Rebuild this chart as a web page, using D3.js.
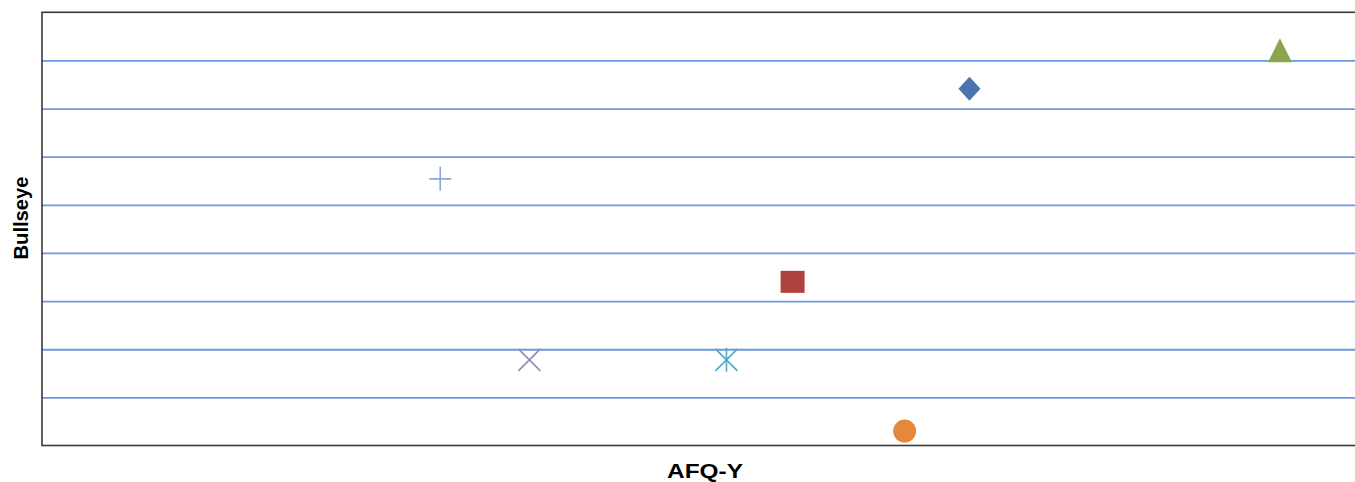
<!DOCTYPE html>
<html>
<head>
<meta charset="utf-8">
<title>AFQ-Y vs Bullseye</title>
<script src="https://d3js.org/d3.v7.min.js"></script>
<style>
body { margin: 0; background: #fff; font-family: "Liberation Sans", Arial, sans-serif; }
.grid line { stroke: #6b98dc; stroke-width: 1.8; }
.grid path { display: none; }
.title { font-weight: bold; font-size: 20px; fill: #000; }
</style>
</head>
<body>
<script>
// data
var series = ["S1", "S2", "S3", "S4", "S5", "S6", "S7"];
var shapes = ["diamond", "square", "triangle", "x", "star", "circle", "plus"];
var colors = ["#4a74ad", "#b0423e", "#8ba64f", "#9b86bc", "#4bacc6", "#e6873a", "#8ca8d8"];
var xValues = [68.7, 55.6, 91.7, 36.1, 50.7, 63.9, 29.5];
var yValues = [74.1, 34.0, 82.1, 17.8, 17.8, 3.0, 55.4];
var gridTicks = [10, 20, 30, 40, 50, 60, 70, 80];

var width = 1355, height = 482;
var plotLeft = 42, plotTop = 12.3, plotRight = 1392, plotBottom = 445.5;

var svg = d3.select("body").append("svg")
    .attr("width", width)
    .attr("height", height);

var x = d3.scaleLinear().domain([0, 100]).range([plotLeft, plotRight]);
var y = d3.scaleLinear().domain([0, 90]).range([plotBottom, plotTop]);

// horizontal gridlines
svg.append("g")
    .attr("class", "grid")
    .attr("transform", "translate(" + plotLeft + ",0)")
    .call(d3.axisLeft(y).tickValues(gridTicks).tickSize(-(plotRight - plotLeft)).tickFormat(""));

// plot border (right side falls outside the window)
svg.append("rect")
    .attr("x", plotLeft).attr("y", plotTop)
    .attr("width", plotRight - plotLeft).attr("height", plotBottom - plotTop)
    .attr("fill", "none")
    .attr("stroke", "#3a3a3a")
    .attr("stroke-width", 1.6);

// marker drawing
var r = 12;
function markerPath(shape) {
    switch (shape) {
        case "diamond": return "M0," + (-r) + "L" + (r - 1) + ",0L0," + r + "L" + (-(r - 1)) + ",0Z";
        case "square": return "M-12,-11H12V11H-12Z";
        case "triangle": return "M0,-12L12,12H-12Z";
        case "x": return "M-11,-11L11,11M-11,11L11,-11";
        case "star": return "M-11,-11L11,11M-11,11L11,-11M0,-12V12";
        case "plus": return "M-11,0H11M0,-12V12";
    }
}

var pts = series.map(function(s, i) {
    return { name: s, shape: shapes[i], color: colors[i], x: xValues[i], y: yValues[i] };
});

var g = svg.append("g");
g.selectAll("g.pt")
    .data(pts)
    .enter()
    .append("g")
    .attr("class", "pt")
    .attr("transform", function(d) { return "translate(" + x(d.x) + "," + y(d.y) + ")"; })
    .each(function(d) {
        var el = d3.select(this);
        if (d.shape === "circle") {
            el.append("circle").attr("r", 11.5).attr("fill", d.color);
        } else if (d.shape === "x" || d.shape === "star" || d.shape === "plus") {
            el.append("path").attr("d", markerPath(d.shape))
                .attr("fill", "none").attr("stroke", d.color).attr("stroke-width", 1.6);
        } else {
            el.append("path").attr("d", markerPath(d.shape)).attr("fill", d.color);
        }
    });

// axis titles
svg.append("text")
    .attr("class", "title")
    .attr("x", 705).attr("y", 478)
    .attr("text-anchor", "middle")
    .attr("textLength", 76)
    .attr("lengthAdjust", "spacingAndGlyphs")
    .text("AFQ-Y");

svg.append("text")
    .attr("class", "title")
    .attr("transform", "translate(28,218) rotate(-90)")
    .attr("text-anchor", "middle")
    .attr("textLength", 83)
    .attr("lengthAdjust", "spacingAndGlyphs")
    .text("Bullseye");
</script>
</body>
</html>
